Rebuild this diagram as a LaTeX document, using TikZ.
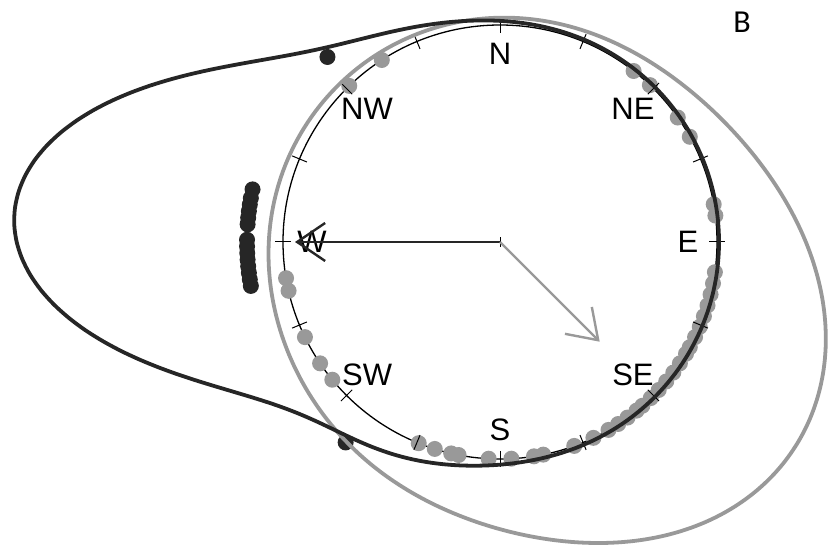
\documentclass[tikz,border=0pt]{standalone}
\usepackage{fontspec}
\setmainfont{Liberation Sans}
\newfontfamily\panelfont{Carlito}
\usetikzlibrary{arrows.meta}

\definecolor{darkline}{RGB}{38,38,38}
\definecolor{lightline}{RGB}{153,153,153}

\begin{document}
\begin{tikzpicture}[
        x=1pt, y=1pt,
        dens/.style={line width=3.8pt},
        graydot/.style={fill=lightline},
        blackdot/.style={fill=darkline},
        tickmark/.style={line width=1pt},
        compass/.style={font=\fontsize{31}{31}\selectfont, inner sep=0pt},
        meanarrow/.style={line width=2.4pt, -{Straight Barb[length=28pt,width=38pt]}}
    ]
    \useasboundingbox (0,0) rectangle (828,544);
    \coordinate (c) at (500,302);

    % unit circle
    \draw[line width=1.3pt] (c) circle (217);

    % data points, gray group on the circle
    \foreach \b in {316,327,38,43.7,55,61,80,83,
                    98,101,104,107,110,113,116,119,121,124,127,130,133,136,139,141,144,147,150,
                    154.5,160,168.5,171,177,183,191,193,197.5,202,230.6,236,244,257,260.4}
        \fill[graydot] (c) ++(90-\b:217) circle (8);

    % data points, black group stacked outside
    \foreach \b in {217.6,317,260,261.5,263,264.5,266,267.5,269,270.5,274,275.5,277,278.5,280,282}
        \fill[blackdot] (c) ++(90-\b:253) circle (8);

    % ticks every 22.5 degrees
    \foreach \b in {0,22.5,...,337.5}
        \draw[tickmark] (c) ++(90-\b:209) -- ++(90-\b:16);
    \draw[tickmark] (c) ++(0,-5) -- ++(0,10);

    % compass labels
    \foreach \n/\b in {N/0,NE/45,E/90,SE/135,S/180,SW/225,W/270,NW/315}
        \path (c) ++(90-\b:188) node[compass] (\n) {\n};

    % density curves (bearing \x, clockwise from north)
    \begin{scope}[shift={(c)}]
        \draw[dens, lightline] plot[domain=0:360, samples=181, smooth]
            ({90-\x}:{221+136*exp(2.5*(cos(\x-126)-1))+20*exp(3*(cos(\x-200)-1))+6*exp(2*(cos(\x-265)-1))}) -- cycle;
        \draw[dens, darkline] plot[domain=0:360, samples=181, smooth]
            ({90-\x}:{219+265*exp(8*(cos(\x-273)-1))+19*exp(8*(cos(\x-217.6)-1))+17*exp(8*(cos(\x-317)-1))}) -- cycle;
    \end{scope}

    % mean directions
    \path (c) ++(180:205) coordinate (meanblack);
    \path (c) ++(-45:141) coordinate (meangray);
    \draw[meanarrow, darkline] (c) -- (meanblack);
    \draw[meanarrow, lightline] (c) -- (meangray);

    \node[font=\panelfont\fontsize{32}{32}\selectfont] (panel) at (742,522) {B};
\end{tikzpicture}
\end{document}
